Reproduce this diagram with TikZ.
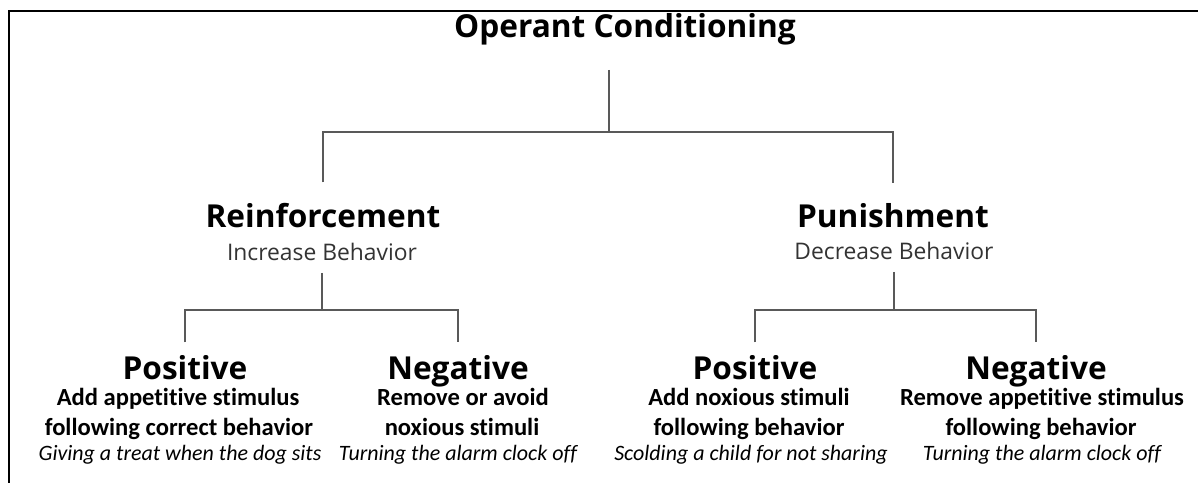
\documentclass[tikz,border=0pt]{standalone}
\usepackage{fontspec}
\setmainfont{Carlito}[Ligatures=NoCommon]
\newfontfamily\headfont{Open Sans}[Ligatures=NoCommon]

\begin{document}
\begin{tikzpicture}[x=0.02cm, y=-0.02cm,
        branch/.style={line width=1.1pt, black!65},
        topic/.style={font=\headfont\fontsize{18}{21}\selectfont\bfseries, inner sep=0pt, anchor=base},
        effect/.style={font=\headfont\fontsize{13}{15}\selectfont, text=black!80, inner sep=0pt, anchor=base},
        rule/.style={font=\fontsize{14}{16}\selectfont\bfseries, inner sep=0pt, anchor=base},
        example/.style={font=\fontsize{12.5}{15}\selectfont\itshape, inner sep=0pt, anchor=base}]
      \useasboundingbox (0,0) rectangle (1198,483);
      \draw[line width=1.1pt] (9,483) -- (9,11) -- (1198,11);

      % headings
      \node[topic] (oc) at (625,38) {Operant Conditioning};
      \node[topic] (reinf) at (323,228) {Reinforcement};
      \node[effect] (incr) at (322,260) {Increase Behavior};
      \node[topic] (pun) at (893,228) {Punishment};
      \node[effect] (decr) at (894,259) {Decrease Behavior};
      \node[topic] (rpos) at (185,379) {Positive};
      \node[topic] (rneg) at (458,379) {Negative};
      \node[topic] (ppos) at (755,379) {Positive};
      \node[topic] (pneg) at (1036,379) {Negative};

      % descriptions and examples
      \node[rule] (rpos-a) at (178,405) {Add appetitive stimulus};
      \node[rule] (rpos-b) at (179,435) {following correct behavior};
      \node[example] (rpos-eg) at (180,460) {Giving a treat when the dog sits};
      \node[rule] (rneg-a) at (463,405) {Remove or avoid};
      \node[rule] (rneg-b) at (462,435) {noxious stimuli};
      \node[example] (rneg-eg) at (458,460) {Turning the alarm clock off};
      \node[rule] (ppos-a) at (749,405) {Add noxious stimuli};
      \node[rule] (ppos-b) at (749,435) {following behavior};
      \node[example] (ppos-eg) at (751,460) {Scolding a child for not sharing};
      \node[rule] (pneg-a) at (1042,405) {Remove appetitive stimulus};
      \node[rule] (pneg-b) at (1041,435) {following behavior};
      \node[example] (pneg-eg) at (1042,460) {Turning the alarm clock off};

      % tree lines
      \coordinate (oc-stem) at (609,70);
      \draw[branch] (oc-stem) -- ++(0,62) coordinate (oc-bar);
      \draw[branch] ([yshift=12pt]reinf.north) |- (oc-bar) -| ([yshift=12pt]pun.north);
      \draw[branch] ([yshift=-7pt]incr.south) -- ++(0,37) coordinate (reinf-bar);
      \draw[branch] ([yshift=7pt]rpos.north) |- (reinf-bar) -| ([yshift=7pt]rneg.north);
      \draw[branch] ([yshift=-7pt]decr.south) -- ++(0,38) coordinate (pun-bar);
      \draw[branch] ([yshift=7pt]ppos.north) |- (pun-bar) -| ([yshift=7pt]pneg.north);
    \end{tikzpicture}
\end{document}
